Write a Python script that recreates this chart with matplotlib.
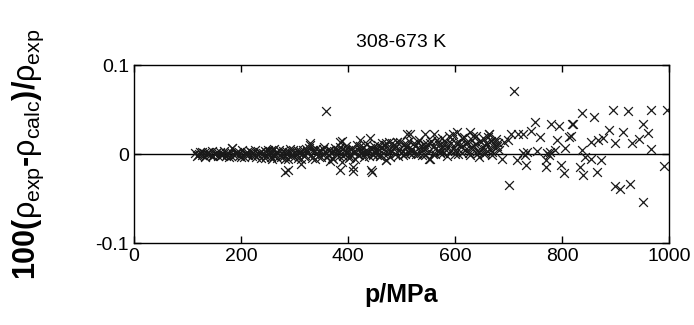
import numpy as np
import matplotlib.pyplot as plt

plt.rcParams['font.family'] = ['Liberation Sans', 'DejaVu Sans']
plt.rcParams['mathtext.fontset'] = 'custom'
plt.rcParams['mathtext.rm'] = 'Liberation Sans'
plt.rcParams['mathtext.it'] = 'Liberation Sans'

# low pressure band (115-262 MPa)
p_low = [115, 118, 121, 124, 127, 130, 133, 136, 139, 142, 145, 148, 151, 154, 157, 160,
         163, 166, 169, 172, 175, 178, 181, 184, 187, 190, 193, 196, 199, 202, 205, 208,
         211, 214, 217, 220, 223, 226, 229, 232, 235, 238, 241, 244, 247, 250,
         120, 128, 137, 146, 155, 164, 173, 182, 191, 200, 209, 218, 227, 236, 245, 254, 258, 262]
d_low = [0.001, -0.002, 0.000, 0.002, -0.001, 0.001, -0.003, 0.000, 0.002, -0.001, 0.003, -0.002,
         0.000, 0.001, -0.002, 0.002, -0.001, 0.000, 0.003, -0.002, 0.001, -0.003, 0.002, 0.007,
         -0.001, 0.000, 0.002, -0.002, 0.001, 0.004, -0.003, 0.000, 0.002, -0.001, 0.003, -0.002,
         0.001, 0.004, -0.003, 0.000, 0.002, -0.004, 0.001, 0.003, -0.002, 0.005,
         -0.001, 0.002, 0.001, -0.002, 0.002, -0.001, 0.000, -0.002, 0.001, -0.003, 0.001, 0.002,
         -0.001, 0.001, -0.004, 0.003, -0.005, 0.006]

# mid pressure band (250-450 MPa)
p_mid = [252, 256, 260, 264, 268, 272, 276, 280, 284, 288, 292, 296, 300, 304, 308, 312, 316,
         320, 324, 328, 332, 336, 340, 344, 348, 352, 356, 360, 364, 368, 372, 376, 380, 384,
         388, 392, 396, 400, 404, 408, 412, 416, 420, 424, 428, 432, 436, 440, 444, 448,
         254, 258, 262, 266, 270, 274, 278, 282, 286, 290, 294, 298, 302, 306, 310, 314, 318,
         322, 326, 330, 334, 338, 342, 346, 350, 354, 358, 362, 366, 370, 374, 378, 382, 386,
         390, 394, 398, 402, 406, 410, 414, 418, 422, 426, 430, 434, 438, 442, 446, 450]
d_mid = [0.002, -0.003, 0.004, 0.000, -0.004, 0.005, 0.001, -0.002, 0.003, -0.005, 0.006, 0.000,
         -0.003, 0.004, 0.001, -0.006, 0.005, -0.001, 0.003, 0.007, -0.004, 0.002, 0.006, -0.002,
         0.004, 0.000, 0.008, -0.003, 0.005, 0.001, -0.005, 0.007, 0.003, -0.002, 0.006, 0.000,
         0.009, 0.004, -0.003, 0.007, 0.002, 0.010, -0.001, 0.005, 0.008, 0.001, 0.011, -0.002,
         0.006, 0.009,
         -0.001, 0.003, -0.002, 0.002, 0.001, -0.003, 0.003, -0.006, 0.000, 0.002, -0.002, 0.004,
         0.001, -0.004, 0.003, 0.000, -0.002, 0.006, 0.002, -0.001, 0.004, -0.005, 0.001, 0.003,
         -0.003, 0.006, 0.002, -0.001, 0.004, -0.004, 0.003, 0.000, 0.005, 0.008, -0.002, 0.004,
         0.001, -0.004, 0.006, 0.002, -0.006, 0.004, 0.009, 0.001, -0.003, 0.005, 0.002, 0.007,
         -0.001, 0.004]

# high pressure band (450-682 MPa)
p_high = [452, 456, 460, 464, 468, 472, 476, 480, 484, 488, 492, 496, 500, 504, 508, 512, 516,
          520, 524, 528, 532, 536, 540, 544, 548, 552, 556, 560, 564, 568, 572, 576, 580, 584,
          588, 592, 596, 600, 604, 608, 612, 616, 620, 624, 628, 632, 636, 640, 644, 648, 652,
          656, 660, 664, 668, 672, 676, 680,
          454, 458, 462, 466, 470, 474, 478, 482, 486, 490, 494, 498, 502, 506, 510, 514, 518,
          522, 526, 530, 534, 538, 542, 546, 550, 554, 558, 562, 566, 570, 574, 578, 582, 586,
          590, 594, 598, 602, 606, 610, 614, 618, 622, 626, 630, 634, 638, 642, 646, 650, 654,
          658, 662, 666, 670, 674, 678, 682,
          404, 418, 432, 446, 460, 474, 488, 502, 516, 530, 544, 558, 572, 586, 600, 614, 628,
          642, 656, 670]
d_high = [0.004, 0.010, -0.002, 0.012, 0.006, -0.007, 0.014, 0.003, 0.009, 0.000, 0.013, 0.005,
          0.001, 0.011, 0.008, 0.002, 0.023, 0.006, 0.012, 0.000, 0.016, 0.009, 0.004, 0.023,
          0.011, -0.005, 0.015, 0.023, 0.007, 0.013, 0.002, 0.018, 0.010, 0.005, 0.020, 0.012,
          0.023, 0.003, 0.025, 0.014, 0.008, 0.019, 0.011, 0.004, 0.025, 0.016, 0.009, 0.020,
          0.002, 0.013, 0.018, 0.006, 0.011, 0.022, 0.015, 0.008, 0.017, 0.012,
          -0.001, 0.005, 0.008, 0.001, 0.010, 0.004, -0.003, 0.012, 0.006, 0.009, -0.002, 0.014,
          0.003, 0.000, 0.010, 0.015, 0.005, 0.001, 0.009, 0.013, 0.004, -0.001, 0.011, 0.007,
          0.002, 0.012, 0.008, 0.000, 0.016, 0.010, 0.006, 0.001, 0.014, 0.009, 0.003, 0.017,
          0.007, 0.012, 0.000, 0.010, 0.018, 0.005, 0.013, 0.001, 0.008, 0.020, 0.011, 0.003,
          0.015, 0.007, 0.000, 0.012, 0.019, 0.006, 0.002, 0.014, 0.009, 0.004,
          0.000, -0.001, 0.001, 0.000, -0.002, 0.001, 0.000, -0.001, 0.001, 0.000, -0.001, 0.000,
          0.001, -0.002, 0.000, 0.001, -0.001, 0.000, 0.001, -0.001]

# scattered points in and around the band
p_out = [184, 282, 287, 313, 329, 329, 359, 366, 385, 386, 388, 388, 409, 410, 422, 441, 443,
         444, 472, 472, 491, 510, 553]
d_out = [0.007, -0.020, -0.018, -0.011, 0.010, 0.012, 0.048, -0.008, -0.018, 0.014, 0.015,
         -0.009, -0.014, -0.019, 0.016, 0.018, -0.018, -0.020, 0.012, -0.007, 0.014, 0.023, -0.005]

# sparse points above ~640 MPa
p_sparse = [645, 663, 687, 692, 699, 701, 705, 711, 715, 718, 727, 728, 731, 734, 732, 742,
            749, 754, 759, 770, 770, 772, 775, 778, 779, 787, 790, 794, 799, 804, 806, 813,
            816, 818, 821, 834, 837, 837, 839, 843, 854, 855, 859, 866, 868, 872, 877, 887,
            896, 899, 899, 908, 914, 924, 928, 930, 943, 951, 951, 961, 966, 966, 991, 996]
d_sparse = [-0.003, 0.022, -0.006, 0.014, 0.016, -0.035, 0.022, 0.071, -0.007, 0.023, 0.022,
            0.001, -0.001, 0.002, -0.012, 0.026, 0.036, 0.003, 0.019, -0.007, -0.015, 0.001,
            -0.001, 0.002, 0.034, 0.004, 0.016, 0.031, -0.012, -0.021, 0.007, 0.019, 0.020,
            0.034, 0.034, -0.014, 0.046, 0.004, -0.024, -0.003, -0.005, 0.014, 0.042, -0.020,
            0.016, -0.007, 0.018, 0.027, 0.049, 0.012, -0.036, -0.039, 0.025, 0.048, -0.034,
            0.012, 0.017, 0.034, -0.054, 0.024, 0.049, 0.006, -0.013, 0.050]

p = np.array(p_low + p_mid + p_high + p_out + p_sparse)
dev = np.array(d_low + d_mid + d_high + d_out + d_sparse)

fig = plt.figure(figsize=(6.94, 3.25), dpi=100)
ax = fig.add_axes([0.193, 0.252, 0.771, 0.548])

ax.axhline(0, color='black', lw=1.0, zorder=1)
ax.scatter(p, dev, marker='x', s=40, color='#1a1a1a', linewidths=0.9, zorder=2)

ax.set_xlim(0, 1000)
ax.set_ylim(-0.1, 0.1)
ax.set_xticks([0, 200, 400, 600, 800, 1000])
ax.set_yticks([-0.1, 0, 0.1])
ax.set_yticklabels(['-0.1', '0', '0.1'])
ax.tick_params(direction='in', top=True, right=True, length=5, width=1, labelsize=14)
for s in ax.spines.values():
    s.set_linewidth(1.0)

ax.set_title('308-673 K', fontsize=14, pad=13)
ax.set_xlabel('p/MPa', fontsize=18, fontweight='bold', labelpad=13)
ax.set_ylabel(r'100($\rho_{\mathrm{exp}}$-$\rho_{\mathrm{calc}}$)/$\rho_{\mathrm{exp}}$',
              fontsize=22, fontweight='bold')
ax.yaxis.set_label_coords(-0.165, 0.5)

fig.savefig('out.png', dpi=100)
